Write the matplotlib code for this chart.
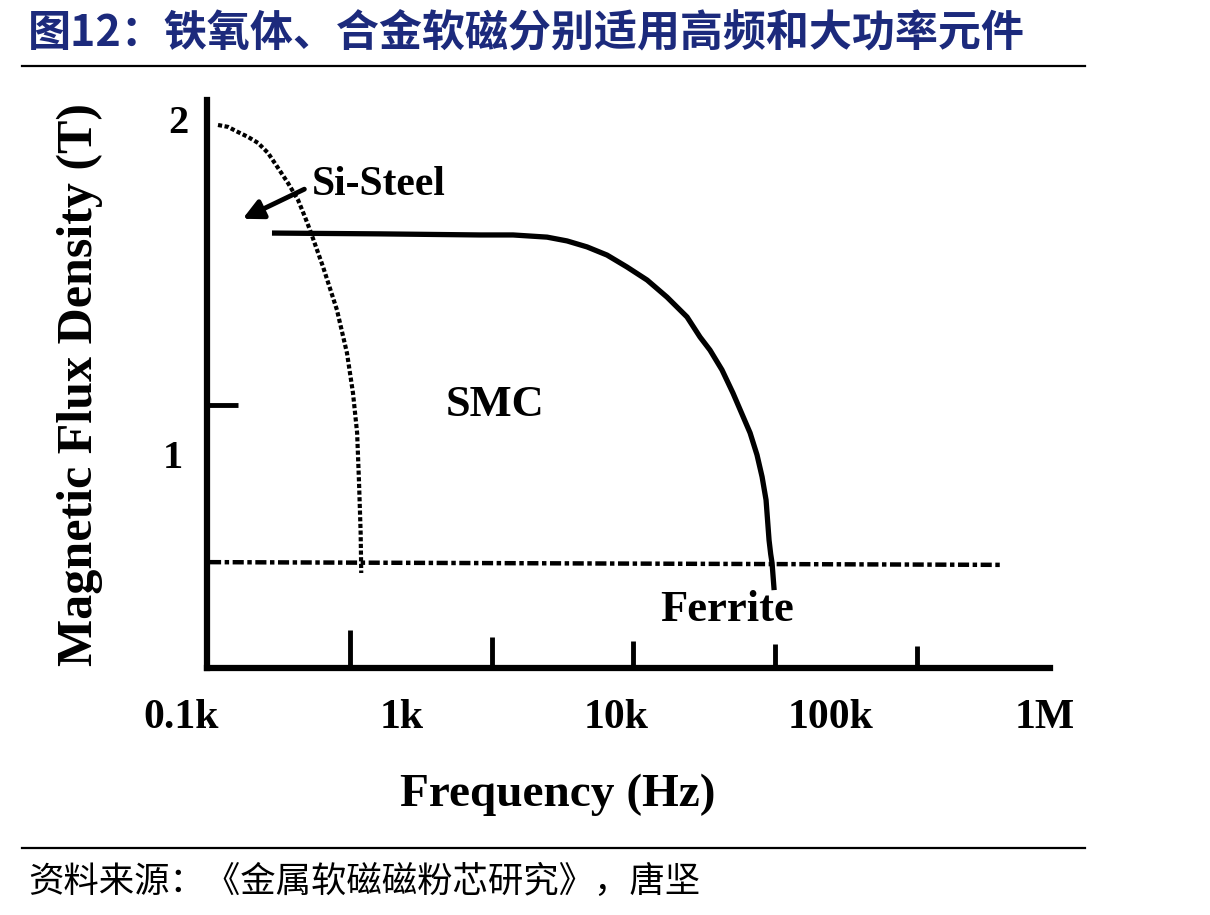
import matplotlib
matplotlib.use("Agg")
import matplotlib.pyplot as plt

plt.rcParams['font.family'] = ['Liberation Serif', 'DejaVu Serif']

# --- data (frequency in Hz, flux density in T) ---
si_f = [139.5, 155.3, 172.9, 192.5, 214.3, 238.6, 265.6, 295.8, 329.3, 354.9, 374.5,
        431, 500, 557, 594, 621, 634, 645, 649]
si_b = [2.000, 1.993, 1.974, 1.956, 1.934, 1.897, 1.842, 1.786, 1.724, 1.661, 1.613,
        1.477, 1.319, 1.160, 1.013, 0.866, 0.681, 0.497, 0.350]

smc_f = [249, 794, 2323, 3311, 4770, 5911, 7328, 9078, 11250, 13960, 17290, 21430,
         24640, 27420, 31190, 35080, 42170, 45420, 47970, 50050, 51690, 52600, 53380, 54590]
smc_b = [1.602, 1.599, 1.595, 1.595, 1.587, 1.573, 1.551, 1.521, 1.477, 1.429, 1.366,
         1.293, 1.219, 1.171, 1.098, 1.013, 0.866, 0.785, 0.704, 0.619, 0.471, 0.42, 0.387, 0.287]

ferrite_f = [128, 616600]
ferrite_b = [0.39, 0.38]

xtick_pos = [575, 2642, 12000, 55100, 253000]
xtick_len = [0.14, 0.115, 0.10, 0.09, 0.08]
xtick_labels = ['0.1k', '1k', '10k', '100k', '1M']
xtick_label_pos = [94, 1000, 10000, 100000, 1000000]
ytick_pos = [0.969]

title = '图12：铁氧体、合金软磁分别适用高频和大功率元件'
source = '资料来源：《金属软磁磁粉芯研究》，唐坚'

fig = plt.figure(figsize=(12.1, 9.15), dpi=100)
ax = fig.add_axes([0.1711, 0.2699, 0.6967, 0.6208])
ax.set_xscale('log')
ax.set_xlim(124, 1.055e6)
ax.set_ylim(0, 2.092)

for s in ['top', 'right']:
    ax.spines[s].set_visible(False)
for s in ['left', 'bottom']:
    ax.spines[s].set_linewidth(4.5)
    ax.spines[s].set_color('black')
ax.set_xticks([])
ax.set_yticks([])
ax.minorticks_off()
ax.tick_params(which='both', length=0, labelbottom=False, labelleft=False)

# curves
ax.plot(si_f, si_b, color='black', lw=3, linestyle=(0, (1, 0.6)), clip_on=False)
ax.plot(smc_f, smc_b, color='black', lw=3.8, solid_capstyle='butt',
        solid_joinstyle='round', clip_on=False)
ax.plot(ferrite_f, ferrite_b, color='black', lw=3.2, linestyle=(0, (2.5, 0.8, 1, 0.8)), clip_on=False)

# hand drawn ticks
for xp, ln in zip(xtick_pos, xtick_len):
    ax.plot([xp, xp], [0, ln], color='black', lw=3.5, solid_capstyle='butt')
for yp in ytick_pos:
    ax.plot([124, 173], [yp, yp], color='black', lw=3.5, solid_capstyle='butt')

# tick labels
for xp, lab in zip(xtick_label_pos, xtick_labels):
    ax.text(xp, -0.184, lab, ha='center', va='center', fontsize=30, fontweight='bold', clip_on=False)
ax.text(91, 2.007, '2', ha='center', va='center', fontsize=29, fontweight='bold', clip_on=False)
ax.text(86, 0.773, '1', ha='center', va='center', fontsize=29, fontweight='bold', clip_on=False)

# annotations
ax.text(382, 1.78, 'Si-Steel', ha='left', va='center', fontsize=30, fontweight='bold')
ax.annotate('', xy=(177, 1.65), xytext=(362, 1.768),
            arrowprops=dict(arrowstyle='-|>', color='black', lw=3.5, mutation_scale=30))
ax.text(2730, 0.969, 'SMC', ha='center', va='center', fontsize=32, fontweight='bold')
ax.text(33000, 0.214, 'Ferrite', ha='center', va='center', fontsize=32, fontweight='bold')

fig.text(80 / 1210, 1 - 385 / 915, 'Magnetic Flux Density (T)', rotation=90,
         ha='center', va='center', fontsize=36, fontweight='bold')
fig.text(558 / 1210, 1 - 795 / 915, 'Frequency (Hz)', ha='center', va='center',
         fontsize=34, fontweight='bold')

# header / footer
fig.text(28 / 1210, 1 - 33 / 915, title, ha='left', va='center', fontsize=31,
         fontweight='bold', color='#1c2a7c', family=['Noto Sans CJK SC', 'DejaVu Sans'])
fig.add_artist(plt.Line2D([22 / 1210, 1085 / 1210], [1 - 66 / 915, 1 - 66 / 915],
                          color='black', lw=1.6))
fig.add_artist(plt.Line2D([22 / 1210, 1085 / 1210], [1 - 848 / 915, 1 - 848 / 915],
                          color='black', lw=1.6))
fig.text(28 / 1210, 1 - 882 / 915, source, ha='left', va='center', fontsize=25.5,
         color='black', family=['Noto Sans CJK SC', 'DejaVu Sans'])

fig.savefig('out.png', dpi=100, facecolor='white')
